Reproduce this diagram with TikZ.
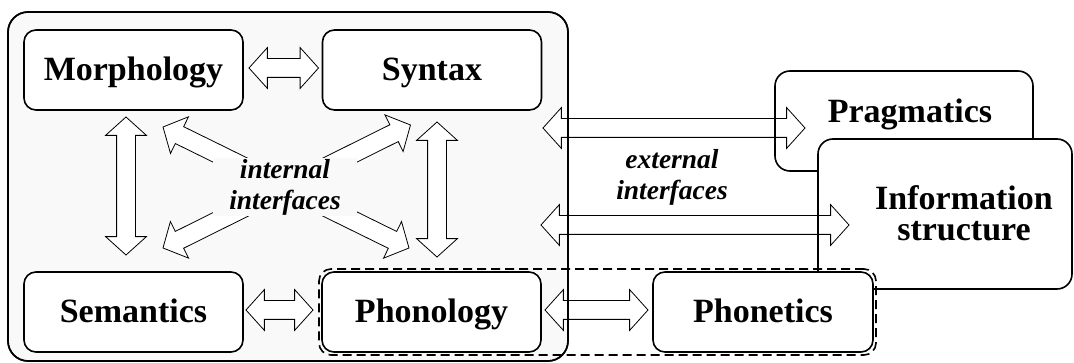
\documentclass[tikz,border=0pt]{standalone}
\usepackage{fontspec}
\setmainfont{Liberation Serif}
\usetikzlibrary{calc,fit,shapes.arrows}
\newcommand{\modfont}{\fontsize{34}{31}\selectfont\bfseries}
\newcommand{\labfont}{\fontsize{27.5}{31}\selectfont\bfseries\itshape}
\newcommand{\twoway}[2]{
  \path let
    \p1 = ($#2-#1$),
    \n1 = {veclen(\x1,\y1)},
    \n2 = {atan2(\y1,\x1)}
  in node[interface, minimum height=\n1, rotate=\n2] at ($#1!0.5!#2$) {};
}

\begin{document}
\begin{tikzpicture}[x=1pt,y=-1pt]
\tikzstyle{border}=[line width=1.6pt]
\tikzstyle{modbox}=[draw, border, fill=white, rounded corners=12pt, minimum width=219pt, minimum height=80pt, inner sep=0pt, outer sep=0pt, text height=27pt, text depth=5pt, font=\modfont]
\tikzstyle{interface}=[double arrow, draw, fill=white, line width=0.8pt, minimum width=40pt, double arrow head extend=11pt, double arrow tip angle=96, inner xsep=0pt, inner ysep=9pt, outer sep=0pt]
\useasboundingbox (0,0) rectangle (1074,363);
\node (core) [draw, border, fill=gray!5, rounded corners=20pt, minimum width=560pt, minimum height=349pt, outer sep=0pt] at (288,186.5) {};
\node (morph) [modbox] at (133.5,70) {Morphology};
\node (syntax) [modbox] at (432,70) {Syntax};
\node (sem) [modbox] at (133.5,312) {Semantics};
\node (phon) [modbox] at (431.5,312) {Phonology};
\node (prag) [modbox, minimum width=258pt, minimum height=100pt, rounded corners=15pt] at (904,121) {};
\node (pragtext) [font=\modfont, anchor=base] at ([shift={(6,2)}]prag.center) {Pragmatics};
\node (info) [modbox, minimum width=254pt, minimum height=150pt, rounded corners=15pt] at (945,214) {};
\node (infotext) [font=\modfont, align=center] at ([shift={(19,-1)}]info.center) {Information\\structure};
\node (phonet) [modbox, minimum width=220pt] at (763,312) {Phonetics};

% internal interfaces
\twoway{([shift={(6,-2)}]morph.east)}{([shift={(-4,-2)}]syntax.west)}
\twoway{([shift={(3,-2)}]sem.east)}{([shift={(-9,-2)}]phon.west)}
\twoway{([shift={(-7.5,7)}]morph.south)}{([shift={(-7.5,-17)}]sem.north)}
\twoway{([shift={(5,12)}]syntax.south)}{([shift={(5.5,-15)}]phon.north)}
\twoway{([shift={(-80,17)}]morph.south east)}{([shift={(87,-24)}]phon.north west)}
\twoway{([shift={(88,15)}]syntax.south west)}{([shift={(-80,-24)}]sem.north east)}
% external interfaces
\twoway{([shift={(-25,-58.5)}]core.east)}{([shift={(30,7)}]prag.west)}
\twoway{([shift={(-27,38.5)}]core.east)}{([shift={(31,11)}]info.west)}
\twoway{([shift={(4,-2)}]phon.east)}{([shift={(-5,-2)}]phonet.west)}

% borders over the arrows
\draw[border, rounded corners=20pt] (core.north west) rectangle (core.south east);
\draw[border] ([shift={(0,15)}]prag.north west) -- ([shift={(0,-15)}]prag.south west);
\draw[border] ([shift={(0,15)}]info.north west) -- (info.west |- phonet.north);

\node (intlabel) [font=\labfont, align=center, fill=gray!5, inner xsep=16pt, inner ysep=1pt] at (285,187) {internal\\interfaces};
\node (extlabel) [font=\labfont, align=center] at (672,177) {external\\interfaces};
\node (phongroup) [draw, border, dash pattern=on 9pt off 5pt, rounded corners=12pt, inner sep=3pt, fit=(phon)(phonet)] {};
\end{tikzpicture}
\end{document}
